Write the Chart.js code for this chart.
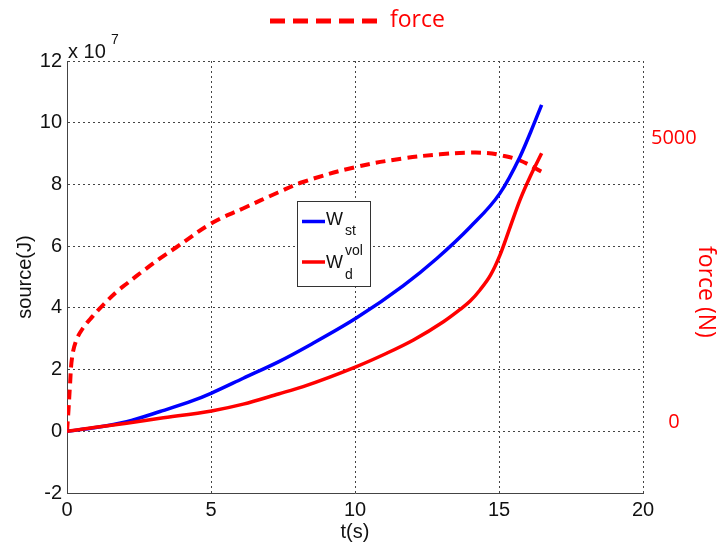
<!DOCTYPE html>
<html lang="en">
<head>
<meta charset="UTF-8"/>
<title>source / force vs t</title>
<script src="https://cdn.jsdelivr.net/npm/chart.js@4.4.7/dist/chart.umd.min.js"></script>
<style>
*{margin:0;padding:0}
body{background:#fff;width:721px;height:544px;overflow:hidden}
#wrap{position:relative;width:721px;height:544px}
</style>
</head>
<body>
<div id="wrap"><canvas id="chart"></canvas></div>
<script>
// W_st (blue), values in 1e7 J
const tSt = [0, 1, 2.07, 3.23, 4.39, 5.02, 6.12, 7.34, 8.5, 10.03, 11.68, 12.84, 14.0, 15.03, 15.73, 16.1, 16.48];
const wSt = [0, 0.12, 0.31, 0.64, 1.0, 1.24, 1.72, 2.25, 2.83, 3.66, 4.72, 5.6, 6.62, 7.71, 8.9, 9.7, 10.58];

// W_d^vol (red solid), values in 1e7 J
const tVol = [0, 1, 2.07, 3.23, 5.02, 6.12, 7.34, 8.2, 10.03, 11.1, 12.03, 13.07, 13.65, 14.0, 14.34, 14.7, 15.03, 15.38, 15.73, 16.08, 16.48];
const wVol = [0, 0.13, 0.26, 0.42, 0.66, 0.88, 1.21, 1.45, 2.09, 2.53, 2.96, 3.55, 3.95, 4.22, 4.58, 5.05, 5.7, 6.6, 7.5, 8.25, 9.01];

// force (N), right axis
const tForce = [0, 0.052, 0.104, 0.174, 0.313, 0.556, 0.903, 1.25, 1.736, 2.083, 2.708, 3.229, 3.785, 5.035, 6.111, 7.326, 8.194, 10.035, 11.667, 12.951, 13.889, 14.583, 15.035, 15.729, 16.493];
const force  = [0, 375, 814, 1289, 1588, 1817, 2030, 2220, 2459, 2600, 2846, 3040, 3233, 3664, 3919, 4200, 4385, 4649, 4799, 4872, 4900, 4895, 4860, 4763, 4561];

const xTicks = [0, 5, 10, 15, 20];
const yTicks = [-2, 0, 2, 4, 6, 8, 10, 12];
const forceTicks = [0, 5000];

const pts = (xs, ys) => xs.map((x, i) => ({ x, y: ys[i] }));

const BLUE = '#0000ff';
const RED  = '#ff0000';
const TXT  = '#111';
const ARIAL = '"Liberation Sans", Arial, sans-serif';

const overlay = {
  id: 'overlay',
  afterDraw(chart) {
    const ctx = chart.ctx;
    ctx.save();
    // exponent label
    ctx.fillStyle = TXT;
    ctx.textBaseline = 'alphabetic';
    ctx.font = '20px ' + ARIAL;
    ctx.fillText('x 10', 68, 58);
    ctx.font = '14px ' + ARIAL;
    ctx.fillText('7', 111, 44);

    // top legend (force)
    ctx.strokeStyle = RED;
    ctx.lineWidth = 5;
    ctx.setLineDash([15, 8]);
    ctx.beginPath();
    ctx.moveTo(270, 21);
    ctx.lineTo(378, 21);
    ctx.stroke();
    ctx.setLineDash([]);
    ctx.fillStyle = RED;
    ctx.font = '23px "Open Sans", sans-serif';
    ctx.textBaseline = 'middle';
    ctx.fillText('force', 390, 20);

    // right title
    ctx.save();
    ctx.translate(706, 292);
    ctx.rotate(Math.PI / 2);
    ctx.textAlign = 'center';
    ctx.fillText('force (N)', 0, 0);
    ctx.restore();

    // inner legend
    ctx.fillStyle = '#fff';
    ctx.fillRect(297, 201, 73, 85);
    ctx.strokeStyle = '#333';
    ctx.lineWidth = 1;
    ctx.strokeRect(297.5, 201.5, 73, 85);
    ctx.lineWidth = 3.5;
    ctx.strokeStyle = BLUE;
    ctx.beginPath(); ctx.moveTo(302, 221.5); ctx.lineTo(325, 221.5); ctx.stroke();
    ctx.strokeStyle = RED;
    ctx.beginPath(); ctx.moveTo(302, 262); ctx.lineTo(325, 262); ctx.stroke();
    ctx.fillStyle = TXT;
    ctx.textBaseline = 'alphabetic';
    ctx.font = '18px ' + ARIAL;
    ctx.fillText('W', 326, 225);
    ctx.fillText('W', 326, 268);
    ctx.font = '14px ' + ARIAL;
    ctx.fillText('st', 345, 235);
    ctx.fillText('vol', 345, 255);
    ctx.fillText('d', 345, 279);
    ctx.restore();
  }
};

new Chart(document.getElementById('chart'), {
  type: 'line',
  data: {
    datasets: [
      { label: 'W_d^vol', data: pts(tVol, wVol), yAxisID: 'y', borderColor: RED, borderWidth: 3.5, pointRadius: 0, cubicInterpolationMode: 'monotone', order: 0 },
      { label: 'W_st', data: pts(tSt, wSt), yAxisID: 'y', borderColor: BLUE, borderWidth: 3.5, pointRadius: 0, cubicInterpolationMode: 'monotone', order: 1 },
      { label: 'force', data: pts(tForce, force), yAxisID: 'y2', borderColor: RED, borderWidth: 4, borderDash: [10, 6], pointRadius: 0, tension: 0.4, order: 2 },
    ]
  },
  options: {
    responsive: true,
    maintainAspectRatio: false,
    animation: false,
    layout: { padding: { top: 61, left: 0, right: 0, bottom: 0 } },
    plugins: { legend: { display: false }, tooltip: { enabled: false } },
    scales: {
      x: {
        type: 'linear', min: 0, max: 20,
        afterBuildTicks: (s) => { s.ticks = xTicks.map((v) => ({ value: v })); },
        afterFit: (s) => { s.height = 51; },
        ticks: { color: TXT, font: { size: 20, family: ARIAL }, padding: 5, maxRotation: 0 },
        grid: { color: '#444', lineWidth: 1, drawTicks: false },
        border: { display: true, color: '#444', width: 1, dash: [2, 3] },
        title: { display: true, text: 't(s)', color: TXT, font: { size: 20, family: ARIAL }, padding: { top: 0, bottom: 0 } }
      },
      y: {
        type: 'linear', position: 'left', min: -2, max: 12,
        afterBuildTicks: (s) => { s.ticks = yTicks.map((v) => ({ value: v })); },
        afterFit: (s) => { s.width = 67; },
        ticks: { color: TXT, font: { size: 20, family: ARIAL }, padding: 5 },
        grid: { color: '#444', lineWidth: 1, drawTicks: false },
        border: { display: true, color: '#444', width: 1, dash: [2, 3] },
        title: { display: true, text: 'source(J)', color: TXT, font: { size: 20, family: ARIAL }, padding: { top: 13, bottom: 0 } }
      },
      y2: {
        type: 'linear', position: 'right', min: -1085, max: 6513,
        afterBuildTicks: (s) => { s.ticks = forceTicks.map((v) => ({ value: v })); },
        afterFit: (s) => { s.width = 78; },
        ticks: { color: RED, font: { size: 20, family: '"Open Sans", sans-serif' }, padding: 8, crossAlign: 'center', labelOffset: -9, callback: (v) => String(v) },
        grid: { display: false, drawTicks: false },
        border: { display: false }
      }
    }
  },
  plugins: [overlay]
});
</script>
</body>
</html>
